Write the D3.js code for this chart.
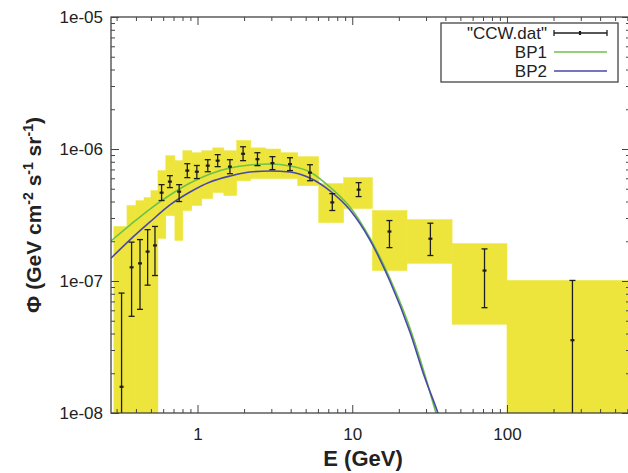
<!DOCTYPE html>
<html><head><meta charset="utf-8">
<script src="https://cdn.jsdelivr.net/npm/d3@7"></script>
<style>
html,body{margin:0;padding:0;background:#fff;}
svg{display:block;font-family:"Liberation Sans",Arial,Helvetica,sans-serif;}
</style></head><body>
<svg id="c" width="628" height="473"></svg>
<script>
// ---- data ----
const energy = [0.323,0.375,0.425,0.476,0.531,0.586,0.663,0.761,0.859,0.99,1.165,1.35,1.62,1.97,2.44,3.05,3.96,5.33,7.43,11.0,17.4,32.0,71.6,265];
const flux   = [1.58e-8,1.27e-7,1.36e-7,1.67e-7,1.86e-7,4.67e-7,5.66e-7,4.75e-7,6.86e-7,6.73e-7,7.48e-7,8.16e-7,7.35e-7,9.2e-7,8.37e-7,7.82e-7,7.68e-7,6.62e-7,3.94e-7,4.92e-7,2.37e-7,2.09e-7,1.20e-7,3.56e-8];
const fluxLo = [1e-9,5.4e-8,6.1e-8,9.3e-8,1.10e-7,4.07e-7,5.1e-7,4.0e-7,6.07e-7,5.97e-7,6.73e-7,7.35e-7,6.5e-7,8.16e-7,7.48e-7,6.98e-7,6.86e-7,5.75e-7,3.42e-7,4.36e-7,1.79e-7,1.56e-7,6.28e-8,1e-9];
const fluxHi = [8.1e-8,1.97e-7,2.06e-7,2.45e-7,2.59e-7,5.37e-7,6.28e-7,5.37e-7,7.74e-7,7.5e-7,8.3e-7,9.06e-7,8.3e-7,1.04e-6,9.37e-7,8.75e-7,8.59e-7,7.6e-7,4.59e-7,5.56e-7,2.87e-7,2.74e-7,1.75e-7,1.01e-7];
// systematic boxes (yellow)
const binLo = [0.288,0.350,0.400,0.451,0.500,0.555,0.624,0.714,0.804,0.918,1.066,1.255,1.479,1.793,2.21,2.76,3.45,4.44,6.07,8.80,13.5,22.6,44.2,100];
const binHi = [0.350,0.400,0.451,0.500,0.555,0.624,0.714,0.804,0.918,1.066,1.255,1.479,1.793,2.21,2.76,3.45,4.44,6.07,8.80,13.5,22.6,44.2,100,700];
const sysLo = [1e-9,1e-9,1e-9,1e-9,1e-9,2.10e-7,3.13e-7,2.03e-7,3.42e-7,3.73e-7,4.21e-7,4.68e-7,4.44e-7,5.75e-7,5.97e-7,5.97e-7,5.97e-7,5.28e-7,2.77e-7,3.54e-7,1.20e-7,1.36e-7,4.70e-8,1e-9];
const sysHi = [2.59e-7,3.73e-7,4.06e-7,4.28e-7,4.84e-7,6.86e-7,8.89e-7,8.16e-7,9.70e-7,9.37e-7,9.70e-7,1.02e-6,9.70e-7,1.16e-6,1.02e-6,1.00e-6,9.37e-7,8.75e-7,5.47e-7,6.07e-7,3.42e-7,2.92e-7,1.92e-7,1.01e-7];
// model curves
const bp1E = [0.276,0.366,0.493,0.664,0.895,1.205,1.62,2.18,2.94,3.96,5.33,7.18,9.67,13.0,17.5,23.6,29.5,34.8,39.7];
const bp1F = [2.01e-7,2.65e-7,3.51e-7,4.48e-7,5.52e-7,6.47e-7,7.18e-7,7.57e-7,7.69e-7,7.43e-7,6.70e-7,5.15e-7,3.64e-7,2.12e-7,1.05e-7,4.41e-8,1.94e-8,1.0e-8,6.2e-9];
const bp2E = [0.276,0.366,0.493,0.664,0.895,1.205,1.62,2.18,2.94,3.96,5.33,7.18,9.67,13.0,17.5,23.6,29.5,35.8,40.9];
const bp2F = [1.49e-7,2.05e-7,2.80e-7,3.77e-7,4.72e-7,5.62e-7,6.24e-7,6.70e-7,6.81e-7,6.70e-7,6.02e-7,4.81e-7,3.45e-7,2.05e-7,1.0e-7,4.11e-8,1.84e-8,1.0e-8,6.1e-9];
// axes
const xMajor = [1,10,100];
const xTickLabels = ["1","10","100"];
const yMajor = [1e-8,1e-7,1e-6,1e-5];
const yTickLabels = ["1e-08","1e-07","1e-06","1e-05"];
const legendLabels = ["\"CCW.dat\"","BP1","BP2"];

// ---- drawing ----
const svg = d3.select("#c");
const L=111, R=630, T=17, B=413;
const x = d3.scaleLog().domain([0.276,624]).range([L,R]);
const y = d3.scaleLog().domain([1e-8,1e-5]).range([B,T]);
const yellow="#eee53c", green="#6cc24a", blue="#4848a8", ink="#1e1e1e";

svg.append("defs").append("clipPath").attr("id","pc")
  .append("rect").attr("x",L).attr("y",T).attr("width",R-L).attr("height",B-T);
const plot = svg.append("g").attr("clip-path","url(#pc)");

// yellow systematic boxes
plot.selectAll("rect.sys").data(binLo).join("rect").attr("class","sys")
  .attr("x",(d,i)=>x(binLo[i])).attr("width",(d,i)=>x(binHi[i])-x(binLo[i]))
  .attr("y",(d,i)=>y(sysHi[i])).attr("height",(d,i)=>y(sysLo[i])-y(sysHi[i]))
  .attr("fill",yellow).attr("stroke",yellow).attr("stroke-width",0.5);

// curves
const line = d3.line().curve(d3.curveMonotoneX);
plot.append("path").attr("d",line(bp1E.map((e,i)=>[x(e),y(bp1F[i])])))
  .attr("fill","none").attr("stroke",green).attr("stroke-width",1.6);
plot.append("path").attr("d",line(bp2E.map((e,i)=>[x(e),y(bp2F[i])])))
  .attr("fill","none").attr("stroke",blue).attr("stroke-width",1.6);

// error bars
const eb = plot.selectAll("g.eb").data(energy).join("g").attr("class","eb");
eb.append("line").attr("x1",d=>x(d)).attr("x2",d=>x(d))
  .attr("y1",(d,i)=>y(fluxHi[i])).attr("y2",(d,i)=>y(fluxLo[i]))
  .attr("stroke",ink).attr("stroke-width",1.3);
eb.append("line").attr("x1",d=>x(d)-3).attr("x2",d=>x(d)+3)
  .attr("y1",(d,i)=>y(fluxHi[i])).attr("y2",(d,i)=>y(fluxHi[i]))
  .attr("stroke",ink).attr("stroke-width",1.3);
eb.append("line").attr("x1",d=>x(d)-3).attr("x2",d=>x(d)+3)
  .attr("y1",(d,i)=>y(fluxLo[i])).attr("y2",(d,i)=>y(fluxLo[i]))
  .attr("stroke",ink).attr("stroke-width",1.3);
eb.append("line").attr("x1",d=>x(d)-2).attr("x2",d=>x(d)+2)
  .attr("y1",(d,i)=>y(flux[i])).attr("y2",(d,i)=>y(flux[i]))
  .attr("stroke",ink).attr("stroke-width",2.2);

// axes with minor ticks
function minors(lo,hi){const out=[];for(let p=Math.floor(Math.log10(lo));p<=Math.ceil(Math.log10(hi));p++){for(let k=2;k<=9;k++){const v=k*Math.pow(10,p);if(v>lo&&v<hi)out.push(v);}}return out;}
const xMin = minors(0.276,624), yMin = minors(1e-8,1e-5);
const axStyle = g=>{g.select(".domain").remove();g.selectAll(".tick line").attr("stroke","#444");g.selectAll("text").attr("fill","#222").style("font-size","17px").style("font-family","Liberation Sans, Arial, sans-serif");};

svg.append("g").attr("transform",`translate(0,${B})`)
  .call(d3.axisBottom(x).tickValues(xMajor).tickSize(-8).tickPadding(15).tickFormat((d,i)=>xTickLabels[i])).call(axStyle);
svg.append("g").attr("transform",`translate(0,${B})`)
  .call(d3.axisBottom(x).tickValues(xMin).tickSize(-4).tickFormat("")).call(axStyle);
svg.append("g").attr("transform",`translate(0,${T})`)
  .call(d3.axisTop(x).tickValues(xMajor).tickSize(-8).tickFormat("")).call(axStyle);
svg.append("g").attr("transform",`translate(0,${T})`)
  .call(d3.axisTop(x).tickValues(xMin).tickSize(-4).tickFormat("")).call(axStyle);
svg.append("g").attr("transform",`translate(${L},0)`)
  .call(d3.axisLeft(y).tickValues(yMajor).tickSize(-8).tickPadding(8).tickFormat((d,i)=>yTickLabels[i])).call(axStyle);
svg.append("g").attr("transform",`translate(${L},0)`)
  .call(d3.axisLeft(y).tickValues(yMin).tickSize(-4).tickFormat("")).call(axStyle);
svg.append("g").attr("transform",`translate(${R},0)`)
  .call(d3.axisRight(y).tickValues(yMajor).tickSize(-8).tickFormat("")).call(axStyle);
svg.append("g").attr("transform",`translate(${R},0)`)
  .call(d3.axisRight(y).tickValues(yMin).tickSize(-4).tickFormat("")).call(axStyle);

// frame
svg.append("rect").attr("x",L).attr("y",T).attr("width",R-L).attr("height",B-T)
  .attr("fill","none").attr("stroke","#444").attr("stroke-width",1.3);

// axis titles
svg.append("text").attr("x",363).attr("y",466).attr("text-anchor","middle")
  .style("font-size","22px").style("font-weight","bold").attr("fill","#222").text("E (GeV)");
const yt = svg.append("text").attr("transform","translate(41,215) rotate(-90)").attr("text-anchor","middle")
  .style("font-size","21px").style("font-weight","bold").attr("fill","#222");
yt.append("tspan").text("Φ (GeV cm");
yt.append("tspan").attr("dy",-8).style("font-size","14px").text("-2");
yt.append("tspan").attr("dy",8).text(" s");
yt.append("tspan").attr("dy",-8).style("font-size","14px").text("-1");
yt.append("tspan").attr("dy",8).text(" sr");
yt.append("tspan").attr("dy",-8).style("font-size","14px").text("-1");
yt.append("tspan").attr("dy",8).text(")");

// legend
const lg = svg.append("g");
lg.append("rect").attr("x",441).attr("y",23).attr("width",177).attr("height",59)
  .attr("fill","#fff").attr("stroke","#444").attr("stroke-width",1.3);
const rowY = [33,52,71];
lg.selectAll("text").data(legendLabels).join("text")
  .attr("x",547).attr("y",(d,i)=>rowY[i]+6).attr("text-anchor","end")
  .style("font-size","17px").attr("fill","#222").text(d=>d);
lg.append("line").attr("x1",554).attr("x2",607).attr("y1",rowY[0]).attr("y2",rowY[0]).attr("stroke",ink).attr("stroke-width",1.3);
[554,580,607].forEach((px,j)=>lg.append("line").attr("x1",px).attr("x2",px).attr("y1",rowY[0]-(j===1?2:3)).attr("y2",rowY[0]+(j===1?2:3)).attr("stroke",ink).attr("stroke-width",j===1?2.2:1.3));
lg.append("line").attr("x1",554).attr("x2",607).attr("y1",rowY[1]).attr("y2",rowY[1]).attr("stroke",green).attr("stroke-width",1.6);
lg.append("line").attr("x1",554).attr("x2",607).attr("y1",rowY[2]).attr("y2",rowY[2]).attr("stroke",blue).attr("stroke-width",1.6);
</script></body></html>
